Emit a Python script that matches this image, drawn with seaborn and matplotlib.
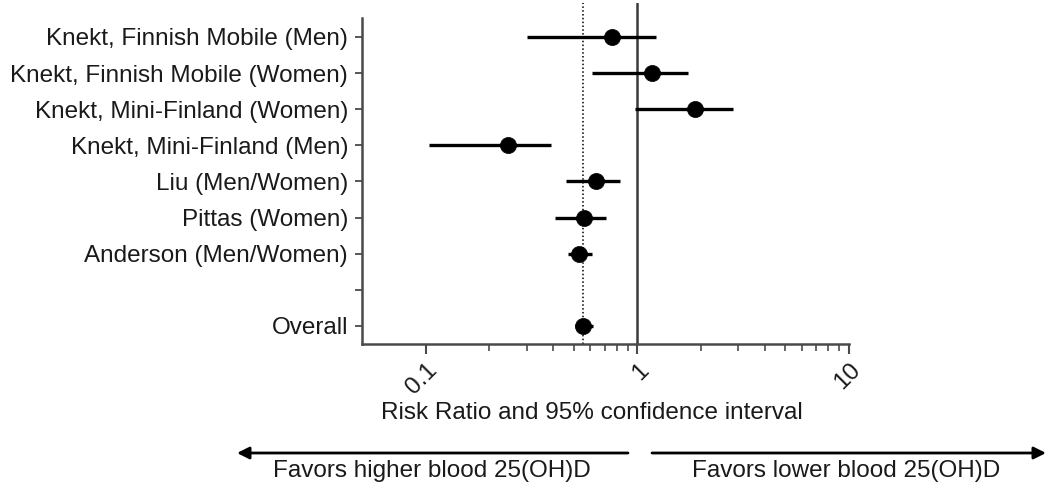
import matplotlib
matplotlib.use("Agg")
import matplotlib.pyplot as plt
import seaborn as sns
import pandas as pd
import numpy as np
from matplotlib.ticker import FixedLocator, NullFormatter

# ---- data ----
studies = ["Knekt, Finnish Mobile (Men)", "Knekt, Finnish Mobile (Women)",
           "Knekt, Mini-Finland (Women)", "Knekt, Mini-Finland (Men)",
           "Liu (Men/Women)", "Pittas (Women)", "Anderson (Men/Women)", "", "Overall"]
rr = [0.76, 1.17, 1.88, 0.245, 0.64, 0.56, 0.53, np.nan, 0.556]
lower = [0.30, 0.61, 0.97, 0.104, 0.46, 0.41, 0.47, np.nan, 0.51]
upper = [1.22, 1.74, 2.84, 0.39, 0.83, 0.71, 0.61, np.nan, 0.62]
overall_rr = 0.556
x_ticks = [0.1, 1, 10]
x_tick_labels = ["0.1", "1", "10"]
x_label = "Risk Ratio and 95% confidence interval"
left_note = "Favors higher blood 25(OH)D"
right_note = "Favors lower blood 25(OH)D"

sns.set_theme(style="white")
plt.rcParams['font.family'] = ['Liberation Sans', 'DejaVu Sans']
TXT = "#1a1a1a"
FS = 17.5

fig = plt.figure(figsize=(10.5, 4.9), dpi=100)
ax = fig.add_axes([362/1050, 1-344/490, (849-362)/1050, (344-3)/490])

df = pd.DataFrame({"study": studies, "pos": np.arange(len(studies)),
                   "rr": rr, "lo": lower, "hi": upper})
d = df.dropna()

ax.hlines(d["pos"], d["lo"], d["hi"], color="black", lw=2.4, zorder=3)
sns.scatterplot(data=d, x="rr", y="pos", color="black", s=135, edgecolor="black",
                linewidth=0.5, ax=ax, zorder=4, legend=False)

ax.set_xscale("log")
ax.set_xlim(0.05, 10)
ax.set_ylim(8.5, -0.94)

ax.axvline(1, color="#3a3a3a", lw=1.8, zorder=2)
ax.axvline(overall_rr, color="black", lw=1.1, ls=(0, (1, 1.5)), zorder=2)

for s in ["top", "right"]:
    ax.spines[s].set_visible(False)
for s in ["left", "bottom"]:
    ax.spines[s].set_color("#4a4a4a")
    ax.spines[s].set_linewidth(1.8)
ax.spines["left"].set_bounds(-0.53, 8.5)

ax.set_yticks(np.arange(len(studies)))
ax.set_yticklabels(studies)
ax.tick_params(axis="y", direction="out", length=5, width=1.3, color="#4a4a4a",
               labelsize=FS, labelcolor=TXT, pad=5, left=True)

ax.set_xticks(x_ticks)
ax.set_xticklabels(x_tick_labels, rotation=45, ha="right", rotation_mode="anchor")
minor = [m * 10.0 ** e for e in (-1, 0) for m in range(2, 10)]
ax.xaxis.set_minor_locator(FixedLocator(minor))
ax.xaxis.set_minor_formatter(NullFormatter())
ax.tick_params(axis="x", which="major", direction="out", length=7, width=1.5,
               color="#4a4a4a", labelsize=FS, labelcolor=TXT, pad=4, bottom=True)
ax.tick_params(axis="x", which="minor", direction="out", length=5, width=1.2,
               color="#4a4a4a", bottom=True)
ax.set_xlabel("")
ax.set_ylabel("")

fig.text(592/1050, 1-413/490, x_label, ha="center", va="center", fontsize=FS, color=TXT)

arrow_y = 1-453/490
ax.annotate("", xy=(237/1050, arrow_y), xytext=(628/1050, arrow_y), xycoords="figure fraction",
            arrowprops=dict(arrowstyle="-|>", color="black", lw=2, mutation_scale=18,
                            shrinkA=0, shrinkB=0))
ax.annotate("", xy=(1046/1050, arrow_y), xytext=(652/1050, arrow_y), xycoords="figure fraction",
            arrowprops=dict(arrowstyle="-|>", color="black", lw=2, mutation_scale=18,
                            shrinkA=0, shrinkB=0))
fig.text(432/1050, 1-471/490, left_note, ha="center", va="center", fontsize=FS, color=TXT)
fig.text(846/1050, 1-471/490, right_note, ha="center", va="center", fontsize=FS, color=TXT)

fig.savefig("out.png", dpi=100)
